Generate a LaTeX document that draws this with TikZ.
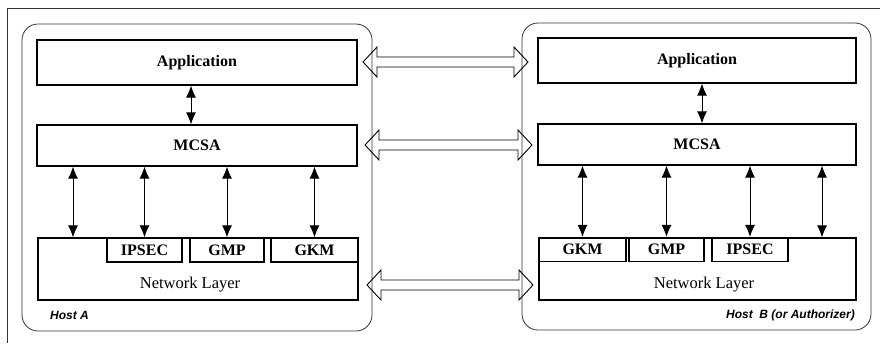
\documentclass[tikz,border=0pt]{standalone}
\usepackage{fontspec}
\setmainfont{Liberation Serif}
\newfontfamily\hostfont{Liberation Sans}
\usetikzlibrary{arrows.meta,calc}
\begin{document}
\begin{tikzpicture}[x=1pt,y=-1pt,
  layerbox/.style={draw, line width=1.1pt, inner sep=0pt, font=\fontsize{16}{18}\bfseries\selectfont},
  subbox/.style={draw, line width=1.1pt, inner sep=0pt, minimum height=24pt, font=\fontsize{16}{18}\bfseries\selectfont},
  hostbox/.style={draw=black!80, line width=0.8pt, rounded corners=16pt},
  hostlabel/.style={font=\hostfont\fontsize{12}{14}\bfseries\itshape\selectfont, inner sep=0pt},
  vlink/.style={line width=1pt, {Latex[length=12pt,width=10pt]}-{Latex[length=12pt,width=10pt]}},
  hollow/.style={draw, line width=0.9pt, line join=miter}
]
\useasboundingbox (0,0) rectangle (880,343);
% outer frame (top and left edges)
\draw[line width=0.8pt, black!80] (880,8) -- (7,8) -- (7,343);

% host boxes
\draw[hostbox] (22,24) rectangle (372,331);
\draw[hostbox] (522,23) rectangle (871,330);

% Host A
\node[layerbox, minimum width=320pt, minimum height=45pt] (appA) at (197,62.5) {Application};
\node[layerbox, minimum width=320pt, minimum height=41pt] (mcsaA) at (197,145.5) {MCSA};
\node[layerbox, minimum width=320pt, minimum height=62pt] (netA) at (198,269) {};
\node[font=\fontsize{16.5}{18}\selectfont, inner sep=0pt] (netAtxt) at (190,285) {Network Layer};
\node[subbox, minimum width=75pt] (ipsecA) at (144.5,250) {IPSEC};
\node[subbox, minimum width=74pt] (gmpA) at (227,250) {GMP};
\node[subbox, minimum width=87pt] (gkmA) at (314.5,250) {GKM};
\node[hostlabel, anchor=west] (hostA) at (50,315) {Host A};

% Host B
\node[layerbox, minimum width=318pt, minimum height=45pt] (appB) at (697,60.5) {Application};
\node[layerbox, minimum width=318pt, minimum height=41pt] (mcsaB) at (697,144.5) {MCSA};
\node[layerbox, minimum width=317pt, minimum height=62pt] (netB) at (697.5,269) {};
\node[font=\fontsize{16.5}{18}\selectfont, inner sep=0pt] (netBtxt) at (704,285) {Network Layer};
\node[subbox, minimum width=87pt] (gkmB) at (582.5,249.5) {GKM};
\node[subbox, minimum width=75pt] (gmpB) at (666.5,249.5) {GMP};
\node[subbox, minimum width=76pt] (ipsecB) at (750,249.5) {IPSEC};
\node[hostlabel, anchor=east] (hostB) at (855,315) {Host\ \ B (or Authorizer)};

% vertical links, host A
\coordinate (amA) at (191,0);
\draw[vlink] (appA.south -| amA) -- (mcsaA.north -| amA);
\coordinate (nA) at (73,0);
\draw[vlink] (mcsaA.south -| nA) -- (netA.north -| nA);
\draw[vlink] (mcsaA.south -| ipsecA.north) -- (ipsecA.north);
\draw[vlink] (mcsaA.south -| gmpA.north) -- (gmpA.north);
\draw[vlink] (mcsaA.south -| gkmA.north) -- (gkmA.north);

% vertical links, host B
\coordinate (amB) at (702,0);
\draw[vlink] (appB.south -| amB) -- (mcsaB.north -| amB);
\draw[vlink] (mcsaB.south -| gkmB.north) -- (gkmB.north);
\draw[vlink] (mcsaB.south -| gmpB.north) -- (gmpB.north);
\draw[vlink] (mcsaB.south -| ipsecB.north) -- (ipsecB.north);
\coordinate (nB) at (822,0);
\draw[vlink] (mcsaB.south -| nB) -- (netB.north -| nB);

% hollow double arrows between hosts
\newcommand{\hollowarrow}[2]{%
  \draw[hollow] (#1) -- ++(14,-15) -- ++(0,10) -- ($(#2)+(-14,-5)$) -- ++(0,-10)
    -- (#2) -- ++(-14,15) -- ++(0,-10) -- ($(#1)+(14,5)$) -- ++(0,10) -- cycle;}
\coordinate (h1L) at (363,62);  \coordinate (h1R) at (528,62);
\coordinate (h2L) at (365,145); \coordinate (h2R) at (532,145);
\coordinate (h3L) at (367,285); \coordinate (h3R) at (533,285);
\hollowarrow{h1L}{h1R}
\hollowarrow{h2L}{h2R}
\hollowarrow{h3L}{h3R}
\end{tikzpicture}
\end{document}
